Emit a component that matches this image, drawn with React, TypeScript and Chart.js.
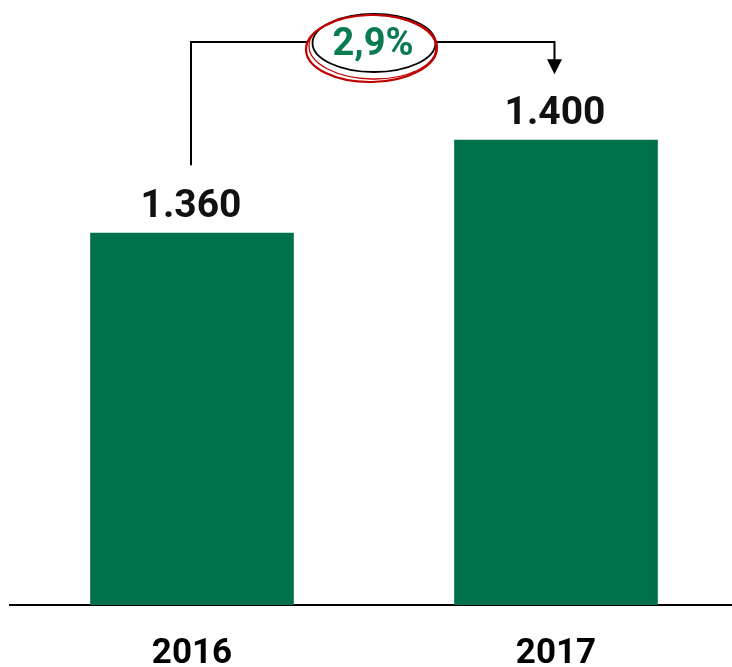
import React, { useEffect, useRef } from "react";
import { Chart, registerables } from "chart.js";

Chart.register(...registerables);

const categories = ["2016", "2017"];
const values = [1360, 1400];
const valueLabels = ["1.360", "1.400"];
const yMin = 1200;
const yMax = 1450;

const GREEN = "#00724B";
const FONT = "Roboto, 'Noto Sans', sans-serif";

const annotationPlugin = {
  id: "growthAnnotation",
  afterDatasetsDraw(chart: any) {
    const ctx = chart.ctx;
    const meta = chart.getDatasetMeta(0);
    const xs = chart.scales.x;
    const ys = chart.scales.y;
    const area = chart.chartArea;

    // value labels
    ctx.save();
    ctx.font = `bold 39px ${FONT}`;
    ctx.fillStyle = "#111";
    ctx.textAlign = "center";
    ctx.textBaseline = "alphabetic";
    meta.data.forEach((bar: any, i: number) => {
      ctx.fillText(valueLabels[i], bar.x - 1, bar.y - 16);
    });
    ctx.restore();

    // growth connector
    const x1 = xs.getPixelForValue(0) - 1;
    const x2 = xs.getPixelForValue(1) - 1.5;
    const top1 = ys.getPixelForValue(values[0]);
    const top2 = ys.getPixelForValue(values[1]);
    const hy = area.top + 18;
    const startY = top1 - 68;
    const tipY = top2 - 66;

    ctx.save();
    ctx.strokeStyle = "#000";
    ctx.lineWidth = 2;
    ctx.beginPath();
    ctx.moveTo(x1, startY);
    ctx.lineTo(x1, hy);
    ctx.lineTo(x2, hy);
    ctx.lineTo(x2, tipY - 14);
    ctx.stroke();
    ctx.fillStyle = "#000";
    ctx.beginPath();
    ctx.moveTo(x2 - 7.5, tipY - 15);
    ctx.lineTo(x2 + 7.5, tipY - 15);
    ctx.lineTo(x2, tipY);
    ctx.closePath();
    ctx.fill();

    // ellipse
    const cx = 373;
    ctx.fillStyle = "#fff";
    ctx.beginPath();
    ctx.ellipse(cx - 1, hy + 6, 65, 33, 0, 0, Math.PI * 2);
    ctx.fill();

    ctx.strokeStyle = "#000";
    ctx.lineWidth = 1.8;
    ctx.beginPath();
    ctx.ellipse(cx + 1, hy + 1, 61.5, 29, 0, 0, Math.PI * 2);
    ctx.stroke();

    ctx.strokeStyle = "#C00000";
    ctx.lineWidth = 2.2;
    ctx.beginPath();
    ctx.ellipse(cx - 1.5, hy + 6.5, 65.5, 33.5, -0.02, 0, Math.PI * 2);
    ctx.stroke();
    ctx.lineWidth = 1.3;
    ctx.beginPath();
    ctx.ellipse(cx - 0.5, hy + 5, 63.5, 32, 0.02, 0, Math.PI * 2);
    ctx.stroke();

    const growth = ((values[1] / values[0] - 1) * 100).toFixed(1).replace(".", ",") + "%";
    ctx.font = `bold 38px ${FONT}`;
    ctx.fillStyle = "#0A7A50";
    ctx.textAlign = "center";
    ctx.textBaseline = "alphabetic";
    ctx.fillText(growth, cx, hy + 13);
    ctx.restore();
  },
};

export default function App() {
  const ref = useRef<HTMLCanvasElement | null>(null);

  useEffect(() => {
    if (!ref.current) return;
    const chart = new Chart(ref.current, {
      type: "bar",
      data: {
        labels: categories,
        datasets: [
          {
            data: values,
            backgroundColor: GREEN,
            borderWidth: 0,
            barThickness: 203,
          },
        ],
      },
      options: {
        animation: false,
        responsive: true,
        maintainAspectRatio: false,
        layout: { padding: { top: 24, left: 10, right: 0, bottom: 0 } },
        plugins: {
          legend: { display: false },
          tooltip: { enabled: false },
        },
        scales: {
          x: {
            grid: { display: false },
            border: { display: true, color: "#000", width: 2 },
            ticks: {
              color: "#000",
              padding: 20,
              font: { family: FONT, size: 35, weight: "bold" },
            },
            afterFit: (axis: any) => {
              axis.height = 62;
            },
          },
          y: {
            display: false,
            min: yMin,
            max: yMax,
          },
        },
      },
      plugins: [annotationPlugin],
    });
    return () => chart.destroy();
  }, []);

  return (
    <div style={{ position: "absolute", left: 0, top: 0, width: 732, height: 667, overflow: "hidden", background: "#fff" }}>
      <div style={{ position: "relative", width: 738, height: 667 }}>
        <canvas ref={ref} />
      </div>
    </div>
  );
}
